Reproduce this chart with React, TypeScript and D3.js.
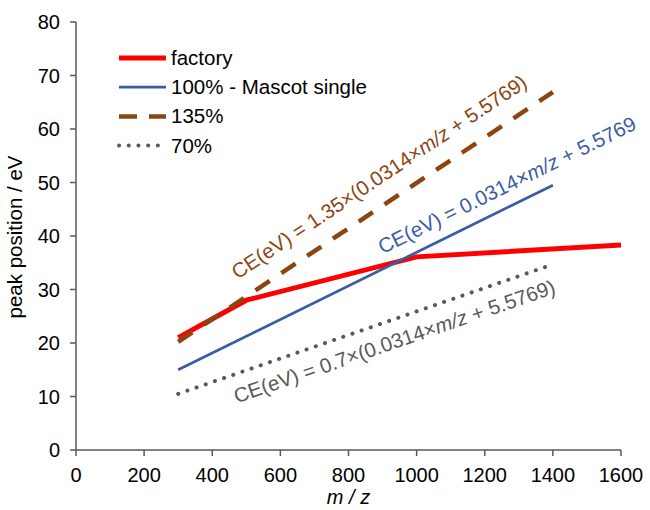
import { useMemo } from "react";
import * as d3 from "d3";

type Pt = { x: number; y: number };

// series values
const factory: Pt[] = [
  { x: 300, y: 21.0 },
  { x: 500, y: 28.0 },
  { x: 1000, y: 36.1 },
  { x: 1600, y: 38.3 },
];
const mascot100: Pt[] = [
  { x: 300, y: 15.0 },
  { x: 1400, y: 49.5 },
];
const pct135: Pt[] = [
  { x: 300, y: 20.2 },
  { x: 1400, y: 66.9 },
];
const pct70: Pt[] = [
  { x: 300, y: 10.5 },
  { x: 1400, y: 34.7 },
];

const xTicks = [0, 200, 400, 600, 800, 1000, 1200, 1400, 1600];
const yTicks = [0, 10, 20, 30, 40, 50, 60, 70, 80];

const legendItems = [
  { label: "factory", color: "#ff0000", width: 5, dash: "", legendDash: "", cap: "butt" },
  { label: "100% - Mascot single", color: "#3b5ba5", width: 2.7, dash: "", legendDash: "", cap: "butt" },
  { label: "135%", color: "#8b4513", width: 4.5, dash: "17,14", legendDash: "18,12", cap: "butt" },
  { label: "70%", color: "#595959", width: 4, dash: "0.1,9.6", legendDash: "0.1,9.6", cap: "round" },
];

// annotation: line it follows, label start in data coords
const notes = [
  { pre: "CE(eV) = 1.35×(0.0314×", post: " + 5.5769)", line: pct135, at: { x: 474, y: 31.8 }, color: "#8b4513" },
  { pre: "CE(eV) = 0.0314×", post: " + 5.5769", line: mascot100, at: { x: 900, y: 36.6 }, color: "#3b5ba5" },
  { pre: "CE(eV) = 0.7×(0.0314×", post: " + 5.5769)", line: pct70, at: { x: 472, y: 8.7 }, color: "#595959" },
];

const W = 650;
const H = 510;
const FONT = "Liberation Sans, Arial, sans-serif";

export default function App() {
  const x = useMemo(() => d3.scaleLinear().domain([0, 1600]).range([76, 621]), []);
  const y = useMemo(() => d3.scaleLinear().domain([0, 80]).range([450, 22]), []);
  const line = d3
    .line<Pt>()
    .x((d) => x(d.x))
    .y((d) => y(d.y));

  const x0 = x(0);
  const y0 = y(0);
  const axisColor = "#595959";

  const series = [
    { data: factory, ...legendItems[0] },
    { data: mascot100, ...legendItems[1] },
    { data: pct135, ...legendItems[2] },
    { data: pct70, ...legendItems[3] },
  ];

  return (
    <svg
      width={W}
      height={H}
      style={{ position: "absolute", left: 0, top: 0, background: "#fff" }}
      fontFamily={FONT}
    >
      {/* axes */}
      <line x1={x0} x2={x(1600)} y1={y0} y2={y0} stroke={axisColor} strokeWidth={1.5} />
      <line x1={x0} x2={x0} y1={y0} y2={y(80)} stroke={axisColor} strokeWidth={1.5} />
      {xTicks.map((t) => (
        <g key={"x" + t}>
          <line x1={x(t)} x2={x(t)} y1={y0} y2={y0 + 6} stroke={axisColor} strokeWidth={1.5} />
          <text x={x(t)} y={y0 + 32} textAnchor="middle" fontSize={20} fill="#000">
            {t}
          </text>
        </g>
      ))}
      {yTicks.map((t) => (
        <g key={"y" + t}>
          <line x1={x0 - 6} x2={x0} y1={y(t)} y2={y(t)} stroke={axisColor} strokeWidth={1.5} />
          <text x={x0 - 16} y={y(t) + 7} textAnchor="end" fontSize={20} fill="#000">
            {t}
          </text>
        </g>
      ))}

      {/* axis titles */}
      <text
        transform={`translate(22,${(y0 + y(80)) / 2 + 1}) rotate(-90)`}
        textAnchor="middle"
        fontSize={20.5}
      >
        peak position / eV
      </text>
      <text x={(x0 + x(1600)) / 2} y={504} textAnchor="middle" fontSize={20} fontStyle="italic">
        m / z
      </text>

      {/* series */}
      {series.map((s) => (
        <path
          key={s.label}
          d={line(s.data) ?? ""}
          fill="none"
          stroke={s.color}
          strokeWidth={s.width}
          strokeDasharray={s.dash || undefined}
          strokeLinecap={s.cap as "butt" | "round"}
        />
      ))}

      {/* legend */}
      {legendItems.map((it, i) => {
        const ly = 58 + i * 29.2;
        return (
          <g key={it.label}>
            <line
              x1={119}
              x2={166}
              y1={ly}
              y2={ly}
              stroke={it.color}
              strokeWidth={it.width}
              strokeDasharray={it.legendDash || undefined}
              strokeLinecap={it.cap as "butt" | "round"}
            />
            <text x={171} y={ly + 7} fontSize={20.5} fill="#000">
              {it.label}
            </text>
          </g>
        );
      })}

      {/* formula annotations */}
      {notes.map((n) => {
        const a = n.line[0];
        const b = n.line[n.line.length - 1];
        const ang =
          (Math.atan2(y(b.y) - y(a.y), x(b.x) - x(a.x)) * 180) / Math.PI;
        return (
          <text
            key={n.pre}
            transform={`translate(${x(n.at.x)},${y(n.at.y)}) rotate(${ang})`}
            fontSize={20.5}
            fill={n.color}
          >
            {n.pre}
            <tspan fontStyle="italic">m/z</tspan>
            {n.post}
          </text>
        );
      })}
    </svg>
  );
}
